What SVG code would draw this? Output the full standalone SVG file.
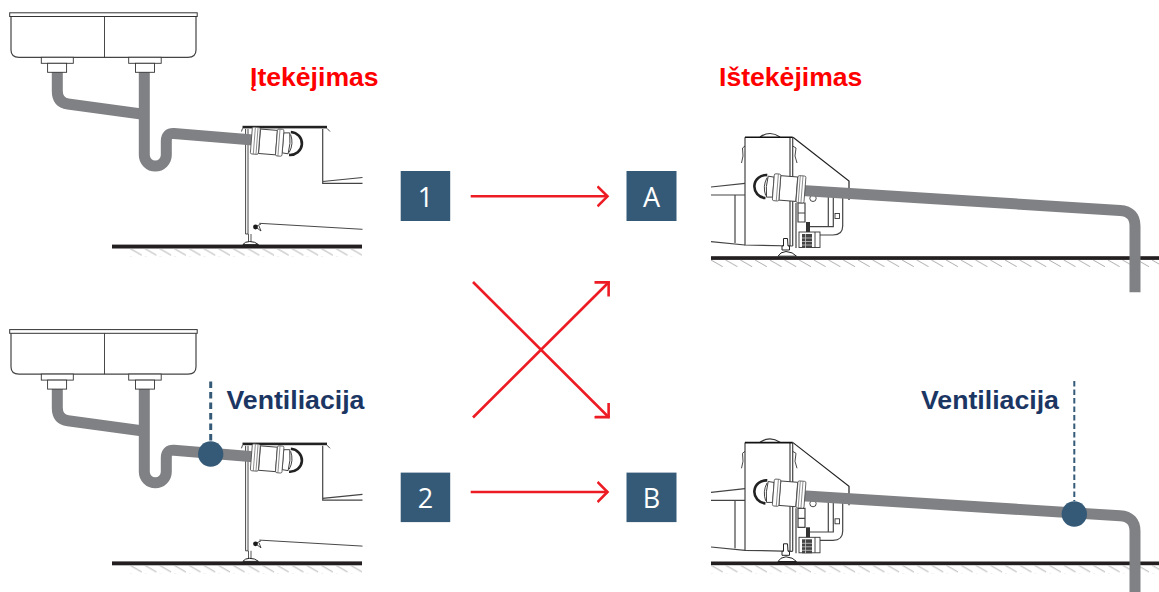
<svg xmlns="http://www.w3.org/2000/svg" xmlns:xlink="http://www.w3.org/1999/xlink" width="1159" height="592" viewBox="0 0 1159 592">
<style>
.bg{fill:#fff}
.ln{fill:none;stroke:#333;stroke-width:0.9}
.lg{fill:none;stroke:#444;stroke-width:1.2}
.wf{fill:#fff;stroke:#333;stroke-width:0.9}
.bk{fill:#1a1a1a}
.pipe{fill:none;stroke:#808184;stroke-width:11}
.gr{fill:#231f20}
.box{fill:#355a78}
.bt{fill:#fff;font:27px "Open Sans",sans-serif;text-anchor:middle}
.red{fill:#f00;font:bold 26.6px "Liberation Sans",Arial,sans-serif}
.navy{fill:#1c3664;font:bold 26.7px "Liberation Sans",Arial,sans-serif}
.ar{fill:none;stroke:#ed1c24;stroke-width:2.6;marker-end:url(#head)}
.dot{fill:#355a78}
</style>
<defs>
<pattern id="hatch" patternUnits="userSpaceOnUse" width="14.7" height="8" x="130" y="248.5">
<path d="M0,0L11.7,6.7" stroke="#999" stroke-width="0.8" fill="none"/>
</pattern>
<pattern id="hatchR" patternUnits="userSpaceOnUse" width="14.7" height="8" x="711" y="260">
<path d="M0,0L11.7,6.7" stroke="#999" stroke-width="0.8" fill="none"/>
</pattern>
<marker id="head" markerUnits="userSpaceOnUse" markerWidth="14" markerHeight="24" refX="11.5" refY="12" orient="auto" viewBox="0 0 14 24">
<path d="M1,2L11,12L1,22" fill="none" stroke="#ed1c24" stroke-width="2.6"/>
</marker>
<g id="sink">
<path class="lg" d="M11,16.5V50Q11,57.3 19,57.3H188Q196,57.3 196,50V16.5"/>
<rect x="9.7" y="12.8" width="187.5" height="3.7" fill="#fff" stroke="#333" stroke-width="1"/>
<path class="ln" d="M104.5,16.5V57.3"/>
<rect class="wf" x="41.3" y="57.3" width="32" height="6"/>
<rect class="wf" x="47.6" y="63.3" width="19" height="9"/>
<rect class="wf" x="128.7" y="57.3" width="32.5" height="6"/>
<rect class="wf" x="135.5" y="63.3" width="19" height="9"/>
</g>
<g id="conn">
<rect class="wf" x="-8.5" y="-12" width="17" height="24.5"/>
<path class="wf" d="M15,-10L21,-10.5Q23,0 21,10.5L15,10Z"/>
<path d="M22,-11.5A12,11.5 0 0 1 22,11.5" fill="none" stroke="#222" stroke-width="2.6"/>
<path class="ln" d="M22,-9Q26,0 22,9"/>
<rect x="-16.7" y="-13.5" width="8" height="27" rx="1.5" fill="#fff" stroke="#444" stroke-width="0.8"/>
<path d="M-13.7,-13.5V13.5M-11,-13.5V13.5" stroke="#777" stroke-width="0.8"/>
<rect x="8.5" y="-13.5" width="6.5" height="27" rx="1.5" fill="#fff" stroke="#444" stroke-width="0.8"/>
<path d="M11,-13.5V13.5" stroke="#777" stroke-width="0.8"/>
</g>
<g id="machL">
<rect class="gr" x="112" y="244.6" width="250" height="3.9"/>
<rect x="130" y="248.5" width="232" height="8" fill="url(#hatch)"/>
<path class="ln" d="M245.6,129V234M248,129V234M245.6,234H248"/>
<rect x="242.5" y="125.8" width="84.5" height="2.6" fill="#222"/>
<path class="ln" d="M242.5,128.4L241.5,131.5M327,128.4L330,131.5"/>
<path class="lg" d="M322.7,129V183.3H362.5M322.7,181.5L362.5,177.5"/>
<path class="ln" d="M259.3,223.3L362.5,229.3"/>
<circle class="bk" cx="255.5" cy="227" r="2.4"/>
<path class="ln" d="M257,226L261,224M257,228L261,231L259,226"/>
<path d="M248.5,234V242M251,234V242" stroke="#444" stroke-width="0.9"/>
<path d="M242.8,244.6Q245,241.5 249.7,241.5Q255,241.5 258.5,244.6Z" fill="#fff" stroke="#222" stroke-width="1"/>
</g>
<g id="machR">
<rect class="gr" x="711" y="256.2" width="448" height="3.7"/>
<rect x="711" y="260" width="448" height="8" fill="url(#hatchR)"/>
<path class="lg" d="M711,187L745,183.3M711,195H745M735,195V243M711,241.7L745,245"/>
<path d="M760,137Q770,130 780,137" fill="#fff" stroke="#333" stroke-width="1.2"/>
<path fill="none" stroke="#222" stroke-width="1.2" d="M793,137.3L849,181V200"/>
<path class="lg" d="M745,137.3V245L792.7,246M790,137.3V246M792.7,137.3V246"/>
<path d="M745,137.3H792.7" stroke="#111" stroke-width="1.6"/>
<path class="ln" d="M745,146L742.5,148L743,156L741.5,163M792.7,146L796,148L795,156L797,163"/>
<path class="lg" d="M842.7,197V226Q842.7,235 833,235H816M833.3,197V226.7H806M828.3,197V226.7"/>
<circle class="ln" cx="813" cy="198.3" r="3.2"/>
<rect class="wf" x="835" y="213.5" width="4.5" height="5"/>
<path class="lg" d="M796,203V248M798,203H805V222H798ZM798,213H805"/>
<rect class="wf" x="799" y="232" width="21" height="15.5"/>
<path d="M806,222H810V232H806Z" fill="#333"/>
<rect x="802" y="234" width="10" height="14" fill="#444"/>
<path d="M802,238H812M802,241.5H812M802,245H812M805.5,234V248" stroke="#ccc" stroke-width="0.8"/>
<path class="ln" d="M815,232V247.5"/>
<path d="M783.5,238.5H787.5L788,246H789.5V250H782V246H783.5Z" fill="#fff" stroke="#222" stroke-width="1"/>
<path d="M778,256.2Q780,252 786,251.5Q793,252 796.5,256.2Z" fill="#fff" stroke="#222" stroke-width="1"/>
</g>
</defs>
<rect class="bg" width="1159" height="592"/>

<g id="unit-inlet-top">
<use xlink:href="#machL" href="#machL"/>
<path class="pipe" d="M57.3,72V91Q57.3,102.5 68,104L145,114.5"/>
<path class="pipe" d="M144.3,72V155A11,11 0 0 0 166.3,155V141Q166.3,133 174,133.5L253,140"/>
<use xlink:href="#sink" href="#sink"/>
<use xlink:href="#conn" href="#conn" transform="translate(268,141.7) rotate(4.5)"/>
</g>
<g id="unit-inlet-bottom" transform="translate(0,316.8)">
<use xlink:href="#machL" href="#machL"/>
<path class="pipe" d="M57.3,72V91Q57.3,102.5 68,104L145,114.5"/>
<path class="pipe" d="M144.3,72V155A11,11 0 0 0 166.3,155V141Q166.3,133 174,133.5L253,140"/>
<use xlink:href="#sink" href="#sink"/>
<use xlink:href="#conn" href="#conn" transform="translate(268,141.7) rotate(4.5)"/>
</g>
<g id="unit-outlet-top">
<use xlink:href="#machR" href="#machR"/>
<path class="pipe" d="M802,190.5L1120,210.5Q1135,211.5 1135,226V292.3"/>
<use xlink:href="#conn" href="#conn" transform="translate(788.3,188.3) rotate(4.5) scale(-1,1)"/>
</g>
<g id="unit-outlet-bottom" transform="translate(0,305.3)">
<use xlink:href="#machR" href="#machR"/>
<path class="pipe" d="M802,190.5L1120,210.5Q1135,211.5 1135,226V287"/>
<use xlink:href="#conn" href="#conn" transform="translate(788.3,188.3) rotate(4.5) scale(-1,1)"/>
</g>

<g id="vent-left">
<path d="M210.7,381.5V442" stroke="#355a78" stroke-width="3" stroke-dasharray="6.5,4" fill="none"/>
<circle class="dot" cx="210.7" cy="454" r="12.7"/>
</g>
<g id="vent-right">
<path d="M1074.3,381V501" stroke="#355a78" stroke-width="2" stroke-dasharray="5.5,3" fill="none"/>
<circle class="dot" cx="1074.3" cy="514" r="12.7"/>
</g>

<g id="label-inlet"><text class="red" x="250" y="86">Įtekėjimas</text></g>
<g id="label-outlet"><text class="red" x="719" y="86">Ištekėjimas</text></g>
<g id="label-vent-left"><text class="navy" x="226.5" y="408.5">Ventiliacija</text></g>
<g id="label-vent-right"><text class="navy" x="921" y="408.5">Ventiliacija</text></g>

<g id="node-1"><rect class="box" x="400.7" y="171" width="49.5" height="50"/><text class="bt" x="425.5" y="206.5">1</text></g>
<g id="node-A"><rect class="box" x="626.5" y="171" width="50" height="50"/><text class="bt" x="651.5" y="206.5">A</text></g>
<g id="node-2"><rect class="box" x="400.7" y="472.6" width="49.5" height="49.5"/><text class="bt" x="425.5" y="507.5">2</text></g>
<g id="node-B"><rect class="box" x="626.5" y="472.6" width="50" height="49.5"/><text class="bt" x="651.5" y="507.5">B</text></g>

<g id="connectors">
<path class="ar" d="M470.7,196.3H608"/>
<path class="ar" d="M470.7,492H608"/>
<path class="ar" d="M473,282L609,417.5"/>
<path class="ar" d="M473,417.5L609,282"/>
</g>
</svg>
